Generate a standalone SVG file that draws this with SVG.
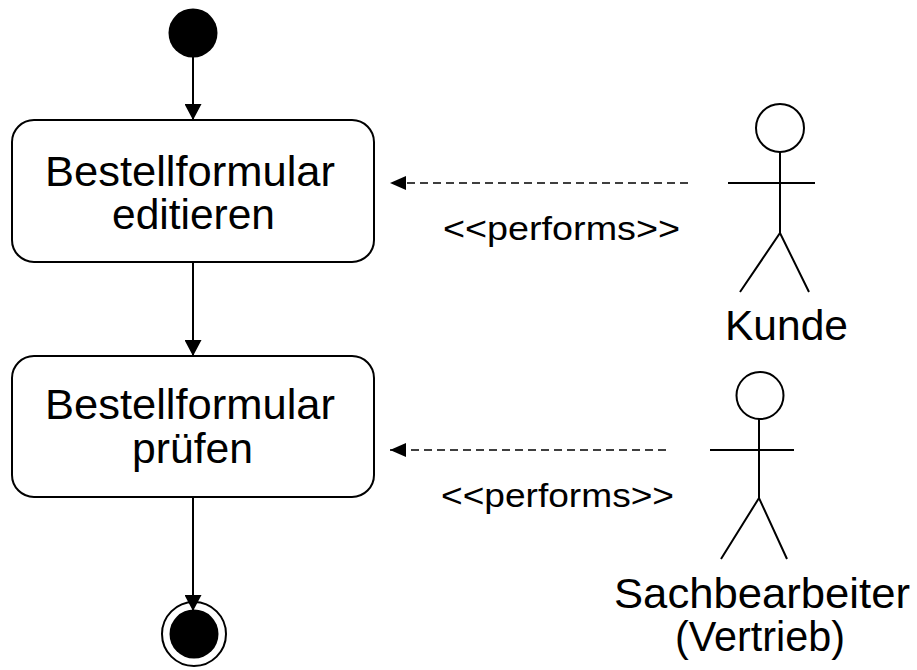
<svg xmlns="http://www.w3.org/2000/svg" width="917" height="670" viewBox="0 0 917 670">
<style>
.ln{fill:none;stroke:#000;stroke-width:2}
.box{fill:#fff;stroke:#000;stroke-width:2}
.t{font-family:"Liberation Sans",Arial,sans-serif;font-size:42px;fill:#000}
.s{font-family:"Liberation Sans",Arial,sans-serif;font-size:34px;fill:#000}
.dash{fill:none;stroke:#000;stroke-width:1.6;stroke-dasharray:8 5}
</style>
<defs>
<marker id="ah" markerUnits="userSpaceOnUse" markerWidth="17" markerHeight="17" refX="16" refY="8.5" orient="auto">
<path d="M0,0 L16,8.5 L0,17 Z" fill="#000"/>
</marker>
<marker id="ahs" markerUnits="userSpaceOnUse" markerWidth="17" markerHeight="14" refX="16" refY="7" orient="auto">
<path d="M0,0 L16,7 L0,14 Z" fill="#000"/>
</marker>
</defs>
<rect width="917" height="670" fill="#fff"/>
<g id="connectors">
<line class="ln" x1="193" y1="57" x2="193" y2="120" marker-end="url(#ah)"/>
<line class="ln" x1="193" y1="262" x2="193" y2="356" marker-end="url(#ah)"/>
<line class="ln" x1="193" y1="497" x2="193" y2="611" marker-end="url(#ah)"/>
<line class="dash" x1="688" y1="183" x2="390" y2="183" marker-end="url(#ahs)"/>
<line class="dash" x1="666" y1="450" x2="390" y2="450" marker-end="url(#ahs)"/>
<text class="s" x="443" y="240" textLength="237" lengthAdjust="spacingAndGlyphs">&lt;&lt;performs&gt;&gt;</text>
<text class="s" x="441" y="507" textLength="233" lengthAdjust="spacingAndGlyphs">&lt;&lt;performs&gt;&gt;</text>
</g>
<g id="start">
<circle cx="193" cy="33" r="24.5" fill="#000"/>
</g>
<g id="edit">
<rect class="box" x="12" y="120" width="362" height="142" rx="22" ry="22"/>
<text class="t" x="45" y="186" textLength="290" lengthAdjust="spacingAndGlyphs">Bestellformular</text>
<text class="t" x="112" y="229" textLength="163" lengthAdjust="spacingAndGlyphs">editieren</text>
</g>
<g id="check">
<rect class="box" x="12" y="356" width="362" height="141" rx="22" ry="22"/>
<text class="t" x="45" y="419" textLength="290" lengthAdjust="spacingAndGlyphs">Bestellformular</text>
<text class="t" x="132" y="463" textLength="121" lengthAdjust="spacingAndGlyphs">prüfen</text>
</g>
<g id="end">
<circle cx="194" cy="634" r="32" fill="none" stroke="#000" stroke-width="2"/>
<circle cx="194" cy="634" r="24.5" fill="#000"/>
</g>
<g id="kunde">
<circle class="ln" cx="780" cy="128" r="24"/>
<line class="ln" x1="780" y1="152" x2="780" y2="233"/>
<line class="ln" x1="728" y1="183" x2="815" y2="183"/>
<polyline class="ln" points="740,292 780,233 809,292"/>
<text class="t" x="725" y="340" textLength="123" lengthAdjust="spacingAndGlyphs">Kunde</text>
</g>
<g id="sachbearbeiter">
<circle class="ln" cx="760" cy="395.5" r="23.5"/>
<line class="ln" x1="759" y1="419" x2="759" y2="498"/>
<line class="ln" x1="710" y1="450" x2="794" y2="450"/>
<polyline class="ln" points="721,559 759,498 787,559"/>
<text class="t" x="614" y="608" textLength="296" lengthAdjust="spacingAndGlyphs">Sachbearbeiter</text>
<text class="t" x="675" y="651" textLength="170" lengthAdjust="spacingAndGlyphs">(Vertrieb)</text>
</g>
</svg>
